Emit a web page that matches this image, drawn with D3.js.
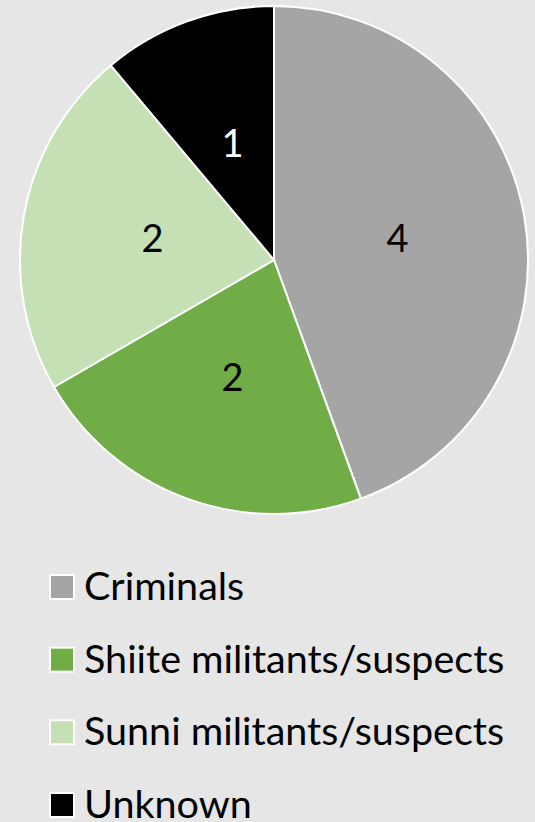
<!DOCTYPE html>
<html><head><meta charset="utf-8">
<script src="https://cdn.jsdelivr.net/npm/d3@7"></script>
<style>html,body{margin:0;padding:0;background:#e6e6e6;}svg{display:block;}</style>
</head><body>
<svg id="c" width="535" height="822"></svg>
<script>
const categories = ["Criminals", "Shiite militants/suspects", "Sunni militants/suspects", "Unknown"];
const values = [4, 2, 2, 1];
const colors = ["#a5a5a5", "#70ad47", "#c5e0b4", "#000000"];
const labelColors = ["#000000", "#000000", "#000000", "#ffffff"];

const svg = d3.select("#c");
svg.append("rect").attr("width", 535).attr("height", 822).attr("fill", "#e6e6e6");
const font = "Lato, 'Open Sans', sans-serif";
const cx = 274, cy = 260, R = 254;

const data = categories.map((c, i) => ({name: c, value: values[i], i}));
const pie = d3.pie().value(d => d.value).sort(null);
const arc = d3.arc().innerRadius(0).outerRadius(R);
const labelArc = d3.arc().innerRadius(0).outerRadius(R * 0.98);
const color = d3.scaleOrdinal().domain(categories).range(colors);

const g = svg.append("g").attr("transform", `translate(${cx},${cy})`);
const arcs = pie(data);
g.selectAll("path").data(arcs).join("path")
  .attr("d", arc).attr("fill", d => color(d.data.name))
  .attr("stroke", "#ffffff").attr("stroke-width", 2).attr("stroke-linejoin", "round");
g.selectAll("text").data(arcs).join("text")
  .attr("transform", d => { const c = labelArc.centroid(d); return `translate(${c[0] + 1},${c[1] + 14})`; })
  .attr("text-anchor", "middle")
  .attr("font-family", font).attr("font-size", 38)
  .attr("fill", d => labelColors[d.data.i])
  .text(d => d.data.value);

const legend = svg.append("g");
const ly = d3.scalePoint().domain(categories).range([600, 818]);
const items = legend.selectAll("g").data(data).join("g")
  .attr("transform", d => `translate(49,${ly(d.name)})`);
items.append("rect").attr("x", 1).attr("y", -25).attr("width", 24).attr("height", 24)
  .attr("fill", d => color(d.name)).attr("stroke", "#ffffff").attr("stroke-width", 2);
items.append("text").attr("x", 35).attr("y", 0)
  .attr("font-family", font).attr("font-size", 39.5).attr("fill", "#000")
  .text(d => d.name);
</script>
</body></html>
